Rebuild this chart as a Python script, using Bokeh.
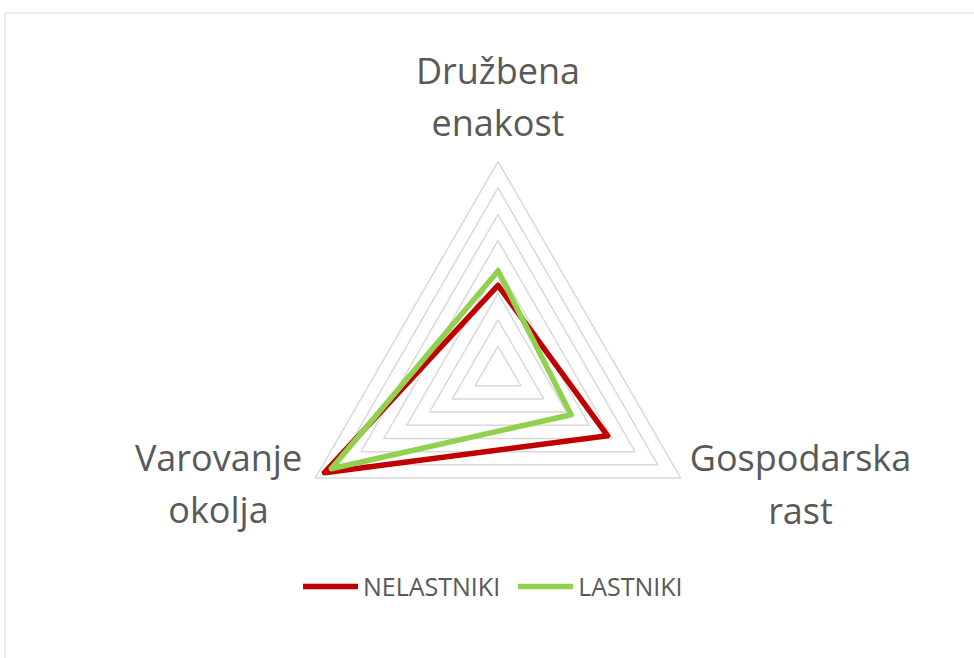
import math
from bokeh.plotting import figure
from bokeh.models import Range1d, Legend, LegendItem
from bokeh.core.properties import value
from bokeh.embed import file_html
from bokeh.resources import INLINE

# ---- data ----
categories = ["Družbena enakost", "Gospodarska rast", "Varovanje okolja"]
label_lines = [["Družbena", "enakost"], ["Gospodarska", "rast"], ["Varovanje", "okolja"]]
series_names = ["NELASTNIKI", "LASTNIKI"]
nelastniki = [3.3, 4.8, 7.6]
lastniki = [3.85, 3.2, 7.3]
grid_levels = [1, 2, 3, 4, 5, 6, 7, 8]
colors = ["#C00000", "#92D050"]

# ---- layout (screen px; page origin at 0,0) ----
W, H = 974, 658
OX, OY = 0, 0
CX, CY = 497.5, 372.0
U = 26.375  # pixels per unit


def sx2d(sx):
    return (sx - CX) / U


def sy2d(sy):
    return (CY - sy) / U


angles = [math.pi / 2 - i * 2 * math.pi / len(categories) for i in range(len(categories))]


def polar(vals):
    xs = [v * math.cos(a) for v, a in zip(vals, angles)]
    ys = [v * math.sin(a) for v, a in zip(vals, angles)]
    return xs + xs[:1], ys + ys[:1]


p = figure(width=W, height=H, output_backend="svg", toolbar_location=None,
           x_range=Range1d(sx2d(OX), sx2d(OX + W)), y_range=Range1d(sy2d(OY + H), sy2d(OY)),
           min_border=0, outline_line_color=None)
p.axis.visible = False
p.grid.visible = False
p.background_fill_color = "white"

# chart border (top & left visible)
p.line([sx2d(4.5), sx2d(4.5)], [sy2d(12.5), sy2d(700)], line_color="#D9D9D9", line_width=1)
p.line([sx2d(4.5), sx2d(1000)], [sy2d(12.5), sy2d(12.5)], line_color="#D9D9D9", line_width=1)

# grid triangles
for lv in grid_levels:
    xs, ys = polar([lv] * len(categories))
    p.line(xs, ys, line_color="#D9D9D9", line_width=1.5)

# series
renderers = []
for name, vals, c in zip(series_names, [nelastniki, lastniki], colors):
    xs, ys = polar(vals)
    r = p.line(xs, ys, line_color=c, line_width=5.5, line_join="round", line_cap="round")
    renderers.append(r)

# category labels
label_pos = [(497.5, [70, 122]), (800, [457, 510]), (218, [457, 509])]
font = value("Open Sans")
for lines, (lx, bys) in zip(label_lines, label_pos):
    for t, by in zip(lines, bys):
        p.text([sx2d(lx)], [sy2d(by)], text=[t], text_align="center", text_baseline="alphabetic",
               text_font=font, text_font_size="36px", text_color="#595959")

legend = Legend(items=[LegendItem(label=n, renderers=[r]) for n, r in zip(series_names, renderers)],
                orientation="horizontal", location=(303 - OX, H - (589 - OY) - 14),
                glyph_width=55, glyph_height=28, label_standoff=5, spacing=18,
                padding=0, margin=0, border_line_color=None, background_fill_alpha=0,
                label_text_font="Open Sans", label_text_font_size="25px", label_text_color="#595959")
p.add_layout(legend, "center")

open("out.html", "w").write(file_html(p, INLINE))
